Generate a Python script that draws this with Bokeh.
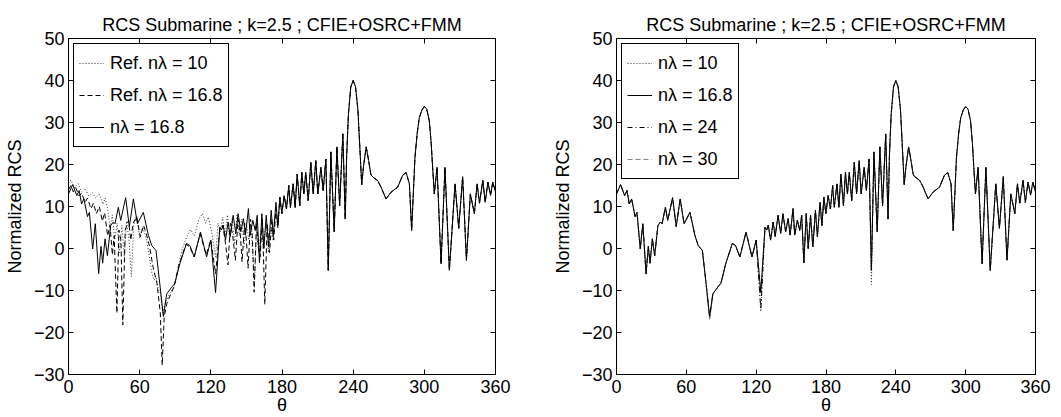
from bokeh.plotting import figure
from bokeh.layouts import row
from bokeh.models import (Legend, LegendItem, LinearAxis, FixedTicker, Range1d,
                          CustomJSTickFormatter)
from bokeh.embed import file_html
from bokeh.resources import INLINE

FONT = "Liberation Sans"

# ---------------- data ----------------
theta_ticks = [0, 60, 120, 180, 240, 300, 360]
rcs_ticks = [-30, -20, -10, 0, 10, 20, 30, 40, 50]
rcs_tick_labels = {-30: "\u221230", -20: "\u221220", -10: "\u221210", 0: "0",
                   10: "10", 20: "20", 30: "30", 40: "40", 50: "50"}

# n_lambda = 16.8 (solid, shared by both panels)
solid_theta = [0, 3.5, 7, 9, 11, 13, 16, 17.6, 20.4, 22.6, 25.4, 27.4, 28.8, 30.8,
               32.8, 35.6, 37.8, 39.2, 42, 44, 48.2, 51.3, 54.7, 58.1, 63.1, 67.4,
               70.2, 73.8, 77.3, 80, 82.8, 87, 89.7, 93.9, 99.5, 102.3, 106, 111.3,
               116.4, 120, 124, 127.6, 129, 130.4, 132.4, 134.6, 136.3, 138.8, 141.1,
               143, 145.3, 147.5, 149.2, 151.7, 153.1, 155.4, 157.4, 159.1, 161, 163,
               164.7, 166.7, 168.7, 170.9, 172.6, 174.9, 176.5, 178.2, 179.9, 181.8,
               183.8, 185.7, 187.1, 189.4, 191.1, 192.8, 195.0, 196.7, 198.4, 200.0,
               202.1, 204.3, 206.3, 208.5, 210.2, 212.8, 214.7, 217.0, 219.0, 221.2,
               224.0, 226.3, 228.6, 231.3, 233.3, 234.5, 236.0, 238.0, 240.0, 242.0,
               244.0, 246.0, 247.2, 248.7, 251.0, 253.0, 255.0, 257.5, 260.6, 263.5,
               267.7, 271.9, 277.5, 281.7, 284.6, 287.4, 289.3, 292.1, 294.0, 295.8,
               298.0, 300.0, 302.0, 304.2, 305.8, 307.0, 308.4, 310.7, 314.1, 317.4,
               321.1, 325.9, 329.0, 332.3, 335.5, 338.8, 342.2, 344.5, 346.5, 349.3,
               351.3, 353.6, 355.8, 357.7, 360.0]
solid_rcs = [13.0, 15.2, 12.6, 13.8, 10.6, 11.8, 7.6, 8.6, -0.1, 5.9, -6.0, 0.5, -3.5, 2.3,
             -1.7, 5.5, 6.3, 5.9, 9.8, 6.7, 12.1, 5.2, 11.8, 5.9, 8.6, 3.1,
             0.7, -0.5, -9.2, -16.2, -10.8, -9.2, -8.3, -3.6, 1.2, 0.7, -2.0, 3.9,
             -2.0, 2.0, -10.5, 5.1, 4.4, 5.6, 2.0, 6.3, 2.8, 7.9, 3.6,
             8.3, 4.0, 7.1, 3.2, 9.5, 3.2, 6.7, 4.3, 7.9, -3.4, 8.3,
             0.0, 7.9, 0.4, 9.1, 2.8, 11.0, 5.4, 12.2, 8.3, 12.6,
             9.4, 15.0, 9.8, 15.4, 9.8, 17.7, 10.2, 18.1, 13.0, 18.1,
             11.4, 20.5, 13.0, 20.9, 13.0, 19.3, 13.8, 21.3, -5.2, 23.0,
             4.0, 24.2, 10.2, 27.3, 7.0, 22.0, 32.0, 38.5, 40.0, 38.5,
             33.0, 22.0, 15.2, 19.5, 24.2, 21.0, 17.5, 16.8, 16.2, 14.6,
             11.8, 13.4, 14.6, 17.4, 18.1, 15.4, 4.3, 21.7, 27.5, 31.2,
             33.0, 33.8, 33.2, 30.4, 25.0, 19.3, 13.0, 19.3, -3.6, 19.3,
             -5.2, 15.4, 4.8, 17.1, -2.8, 13.0, 8.3, 15.4, 10.8, 16.2,
             11.0, 15.8, 12.7, 15.8, 13.5]

# Ref. n_lambda = 10 (dotted, left panel) below 178 deg; above it follows the solid curve
ref10_theta = [0, 2, 5, 8, 11, 14, 17, 20, 23, 26, 29, 31, 33, 35, 37, 39, 41, 43, 45,
               47, 49, 51, 53, 55, 57.5, 60, 62.5, 65, 67.5, 70, 72, 74, 75.5, 77.5,
               79.5, 81.6, 84, 86, 89, 92, 96, 100, 103, 106, 110, 113, 115.5, 118,
               121, 124, 126, 128, 130, 132, 134, 136, 138, 140, 142, 144, 146, 148,
               150, 152, 154, 156.8, 158.5, 160.5, 162.5, 164.5, 166.5, 168.5, 170.5,
               172.5, 174.5, 176.5]
ref10_rcs = [15.5, 16.3, 14.5, 15.5, 13.5, 14.3, 12.5, 13.3, 12.0, 13.0, 10.5, 12.0, 9.5,
             5.0, 8.0, 2.0, 6.0, -1.0, 5.5, -2.0, 6.5, 2.0, -6.7, 5.5, 7.8, 2.5, 5.0,
             3.0, -0.5, -5.5, -7.5, -7.0, -9.5, -10.7, -15.4, -13.0, -11.5, -10.5,
             -9.0, -5.0, 0.0, 3.0, 4.5, 3.0, 7.0, 8.3, 6.0, 7.5, 3.5, -2.0, 6.0, 4.0,
             7.5, 3.0, 8.0, 2.0, 7.0, 1.0, 8.0, 3.0, 7.0, 0.5, 6.0, 2.0, 5.0, -8.0,
             4.0, -1.0, 5.0, 0.0, 6.0, -1.0, 5.0, 2.0, 8.0, 5.0]

# Ref. n_lambda = 16.8 (dashed, left panel) below 178 deg; above it follows the solid curve
ref168_theta = [0, 2, 4, 6, 9, 11, 14, 16, 19, 21, 23.5, 26, 28.5, 30.5, 33, 35, 37,
                38.5, 40.8, 42.5, 44.2, 45.8, 47.8, 50.6, 52.5, 54.5, 57.5, 60.5, 63.3,
                65.5, 68.4, 71.2, 74.6, 77.4, 79.0, 80.7, 83.0, 86, 89, 93, 99, 102,
                106, 111, 116, 120, 124, 127.5, 130, 132, 134.5, 136.5, 138.5, 140.7,
                143, 145, 146.3, 148.5, 150, 151.4, 153.5, 155, 156.5, 158.5, 160,
                161.5, 163.5, 165.5, 167.5, 169.5, 171.5, 173, 175, 176.5]
ref168_rcs = [14.0, 15.0, 13.5, 14.5, 12.5, 13.2, 11.0, 12.0, 9.5, 10.8, 8.3, 10.0, 6.5,
              8.5, 3.0, 5.5, -1.5, 3.0, -15.4, 4.4, 2.0, -18.2, 4.4, 6.7, 2.0, 6.0,
              7.6, 2.8, 5.5, 3.6, 0.4, -4.3, -8.3, -15.4, -27.8, -16.2, -13.0, -11.0,
              -9.1, -4.0, 1.0, 0.5, -2.0, 3.5, -1.5, 2.0, -6.0, 4.5, 5.5, 2.0, -3.9,
              6.0, 3.0, -2.8, 7.0, 3.0, -3.2, 6.0, 2.0, -4.7, 7.0, 3.0, -10.4, 6.0,
              1.0, -2.0, 7.0, -13.3, 6.0, -1.0, 7.0, 2.0, 9.5, 5.0]

# right panel: n = 10, 24, 30 lie on the solid curve except at a few deeper nulls
n10_nulls = {80.0: -17.0, 124.0: -15.0, 219.0: -8.6}
n24_nulls = {124.0: -14.5}
n30_nulls = {80.0: -16.8}

title_text = "RCS Submarine ; k=2.5 ; CFIE+OSRC+FMM"

# ---------------- build series ----------------
tail_t = [t for t in solid_theta if t >= 178]
tail_v = [v for t, v in zip(solid_theta, solid_rcs) if t >= 178]
ref10_t, ref10_v = ref10_theta + tail_t, ref10_rcs + tail_v
ref168_t, ref168_v = ref168_theta + tail_t, ref168_rcs + tail_v
n10_v = [n10_nulls.get(t, v) for t, v in zip(solid_theta, solid_rcs)]
n24_v = [n24_nulls.get(t, v) for t, v in zip(solid_theta, solid_rcs)]
n30_v = [n30_nulls.get(t, v) for t, v in zip(solid_theta, solid_rcs)]


def make_fig(width, min_left, min_right):
    p = figure(width=width, height=417, x_range=Range1d(0, 360), y_range=Range1d(-30, 50),
               output_backend="svg", toolbar_location=None,
               min_border_left=min_left, min_border_right=min_right,
               min_border_top=38, min_border_bottom=43)
    p.title.text = title_text
    p.title.text_font = FONT
    p.title.text_font_size = "18px"
    p.title.text_font_style = "normal"
    p.title.text_color = "black"
    p.title.align = "center"
    p.title.vertical_align = "middle"
    p.title.standoff = 6
    p.xgrid.visible = False
    p.ygrid.visible = False
    p.outline_line_color = "black"
    p.outline_line_alpha = 1
    p.background_fill_color = "white"
    p.border_fill_color = "white"

    for ax in (p.xaxis[0], p.yaxis[0]):
        ax.major_tick_in = 5
        ax.major_tick_out = 0
        ax.minor_tick_line_color = None
        ax.axis_line_color = "black"
        ax.major_tick_line_color = "black"
        ax.major_label_text_font = FONT
        ax.major_label_text_font_size = "18px"
        ax.major_label_text_color = "black"
        ax.axis_label_text_font = FONT
        ax.axis_label_text_font_size = "18px"
        ax.axis_label_text_font_style = "normal"
        ax.axis_label_text_color = "black"
    p.xaxis[0].ticker = FixedTicker(ticks=theta_ticks)
    p.xaxis[0].axis_label = "\u03b8"
    p.xaxis[0].major_label_standoff = 5
    p.xaxis[0].axis_label_standoff = -1
    p.yaxis[0].ticker = FixedTicker(ticks=rcs_ticks)
    p.yaxis[0].major_label_overrides = rcs_tick_labels
    p.yaxis[0].axis_label = "Normalized RCS"
    p.yaxis[0].major_label_standoff = 4
    p.yaxis[0].axis_label_standoff = 6

    blank = CustomJSTickFormatter(code="return ''")
    top = LinearAxis(ticker=FixedTicker(ticks=theta_ticks), formatter=blank,
                     major_tick_in=5, major_tick_out=0, minor_tick_line_color=None,
                     axis_line_color="black", major_label_standoff=0)
    right = LinearAxis(ticker=FixedTicker(ticks=rcs_ticks), formatter=blank,
                       major_tick_in=5, major_tick_out=0, minor_tick_line_color=None,
                       axis_line_color="black", major_label_standoff=0)
    p.add_layout(top, "above")
    p.add_layout(right, "right")
    return p


def make_legend(items):
    lg = Legend(items=items, location="top_left", margin=5, padding=5, spacing=4,
                glyph_width=25, glyph_height=28, label_height=28, label_standoff=6,
                label_text_font=FONT, label_text_font_size="18px",
                label_text_color="black", border_line_color="black",
                border_line_width=1, border_line_alpha=1,
                background_fill_color="white", background_fill_alpha=1)
    return lg


# ---------------- left panel ----------------
p1 = make_fig(549, 68, 54)
r_a = p1.line(ref10_t, ref10_v, line_color="#333333", line_width=1, line_dash="1 2")
r_b = p1.line(ref168_t, ref168_v, line_color="black", line_width=1, line_dash="5 3")
r_c = p1.line(solid_theta, solid_rcs, line_color="black", line_width=1)
p1.add_layout(make_legend([
    LegendItem(label="Ref. n\u03bb = 10", renderers=[r_a]),
    LegendItem(label="Ref. n\u03bb = 16.8", renderers=[r_b]),
    LegendItem(label="n\u03bb = 16.8", renderers=[r_c]),
]))

# ---------------- right panel ----------------
p2 = make_fig(506, 60, 20)
q_a = p2.line(solid_theta, n10_v, line_color="#333333", line_width=1, line_dash="1 2")
q_c = p2.line(solid_theta, n24_v, line_color="black", line_width=1, line_dash="5 3 1 3")
q_d = p2.line(solid_theta, n30_v, line_color="#888888", line_width=1, line_dash="5 3")
q_b = p2.line(solid_theta, solid_rcs, line_color="black", line_width=1)
p2.add_layout(make_legend([
    LegendItem(label="n\u03bb = 10", renderers=[q_a]),
    LegendItem(label="n\u03bb = 16.8", renderers=[q_b]),
    LegendItem(label="n\u03bb = 24", renderers=[q_c]),
    LegendItem(label="n\u03bb = 30", renderers=[q_d]),
]))

layout = row(p1, p2)
open("out.html", "w").write(file_html(layout, INLINE))
